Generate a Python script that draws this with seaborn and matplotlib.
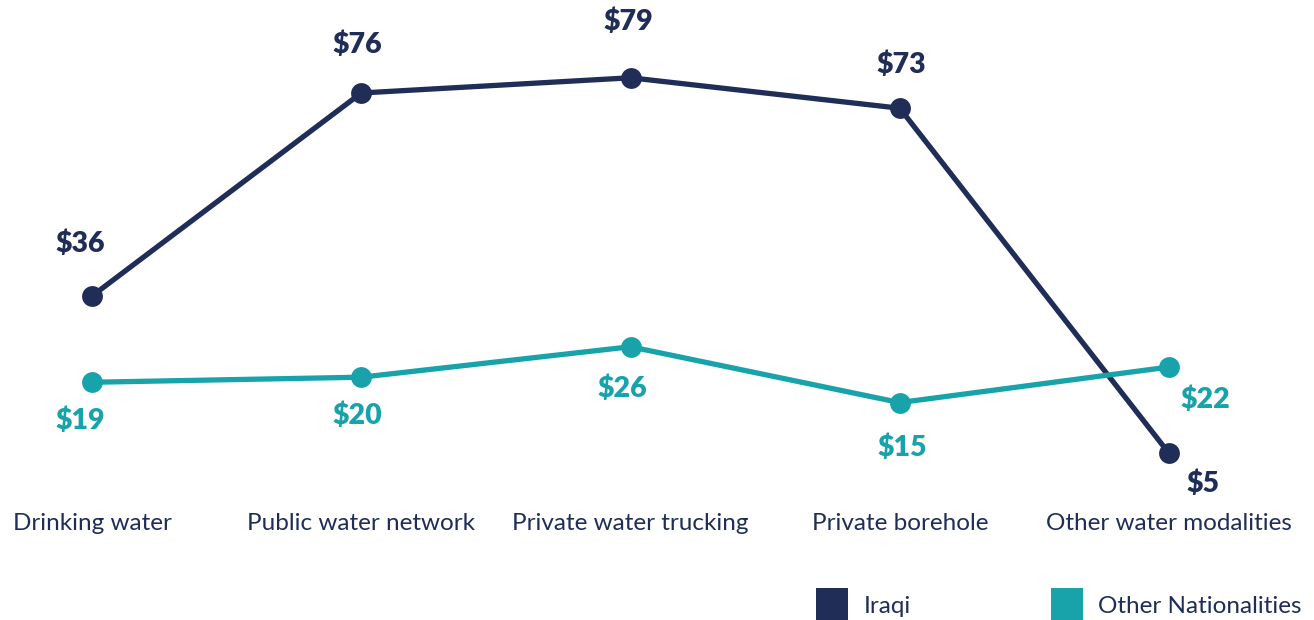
import pandas as pd
import matplotlib.pyplot as plt
import seaborn as sns
from matplotlib.lines import Line2D

sns.set_theme(style="white")
plt.rcParams['font.family'] = ['Lato', 'DejaVu Sans']

categories = ["Drinking water", "Public water network", "Private water trucking",
              "Private borehole", "Other water modalities"]
iraqi = [36, 76, 79, 73, 5]
other = [19, 20, 26, 15, 22]
groups = ["Iraqi", "Other Nationalities"]
colors = {"Iraqi": "#1f2d57", "Other Nationalities": "#18a3ab"}

df = pd.DataFrame({
    "pos": list(range(len(categories))) * 2,
    "value": iraqi + other,
    "group": ["Iraqi"] * len(iraqi) + ["Other Nationalities"] * len(other),
})

fig = plt.figure(figsize=(13.14, 6.2), dpi=100)
ax = fig.add_axes([92 / 1314, 1 - 478.7 / 620, (1169 - 92) / 1314, (478.7 - 72.7) / 620])

sns.lineplot(data=df, x="pos", y="value", hue="group", palette=colors,
             marker="o", markersize=15, markeredgewidth=0, linewidth=3.8,
             legend=False, ax=ax)
for ln in ax.lines:
    ln.set_clip_on(False)

ax.set_xlim(0, 4)
ax.set_ylim(0, 80)
ax.axis("off")

# value labels (offsets in px)
iraqi_off = [(-12, 52), (-4, 48), (-2, 56), (2, 43), (34, -30)]
for i, v in enumerate(iraqi):
    dx, dy = iraqi_off[i]
    ax.annotate(f"${v}", (i, v), xytext=(dx * 0.72, dy * 0.72), textcoords="offset points",
                ha="center", va="center", fontsize=20.5, fontweight="heavy",
                color=colors["Iraqi"])
other_off = [(-12, -38), (-4, -39), (-8, -42), (2, -45), (36, -33)]
for i, v in enumerate(other):
    dx, dy = other_off[i]
    ax.annotate(f"${v}", (i, v), xytext=(dx * 0.72, dy * 0.72), textcoords="offset points",
                ha="center", va="center", fontsize=20.5, fontweight="heavy",
                color=colors["Other Nationalities"])

# category labels
for i, c in enumerate(categories):
    ax.annotate(c, (i, 0), xytext=(0, -45 * 0.72), textcoords="offset points",
                ha="center", va="center", fontsize=17.5, color="#1f2d57")

handles = [Line2D([], [], marker="s", linestyle="none", markersize=23,
                  markerfacecolor=colors[g], markeredgewidth=0) for g in groups]
fig.legend(handles, groups, loc="center left", bbox_to_anchor=(786 / 1314, 1 - 606 / 620),
           ncol=2, frameon=False, fontsize=17.5, handletextpad=0.3,
           columnspacing=5.4, labelcolor="#1f2d57")

fig.savefig("out.png", dpi=100, facecolor="white")
